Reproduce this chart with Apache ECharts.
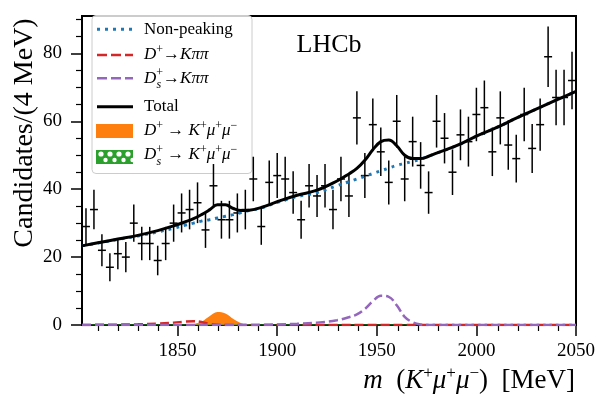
<!DOCTYPE html>
<html>
<head>
<meta charset="utf-8">
<title></title>
<script src="https://cdn.jsdelivr.net/npm/echarts@6/dist/echarts.min.js"></script>
</head>
<body style="margin:0">
<div id="container" style="width:598px;height:396px;"></div>
<script>
// candidates per 4 MeV bin, first bin centre 1804
var binCounts = [29, 34, 22, 17, 21, 20, 30, 24, 24, 19, 24, 30, 33, 34, 36, 28,
                 41, 31, 31, 33, 34, 43, 29, 42, 44, 43, 39, 31, 41, 38, 41, 34,
                 43, 38, 61, 44, 59, 51, 42, 60, 43, 54, 47, 39, 60, 55, 45, 56,
                 54, 62, 64, 51, 61, 53, 49, 62, 52, 59, 79, 67, 67, 72];

// fit components
var curveMass  = [1802, 1810, 1820, 1830, 1840, 1848, 1854, 1858, 1862, 1866, 1870, 1874, 1878,
                  1882, 1886, 1892, 1900, 1910, 1920, 1930, 1936, 1940, 1944, 1948, 1952, 1956,
                  1960, 1964, 1968, 1972, 1976, 1980, 1990, 2000, 2010, 2020, 2030, 2040, 2050];
var nonPeaking = [23.3, 24.15, 25.2, 26.2, 27.4, 28.5, 29.4, 30.0, 30.6, 31.0, 31.5, 32.0, 32.5,
                  33.1, 33.7, 34.5, 36.1, 37.8, 39.0, 41.0, 42.2, 43.0, 43.8, 44.6, 45.4, 46.2,
                  47.0, 47.6, 48.2, 48.9, 49.7, 50.6, 52.8, 55.6, 58.1, 60.9, 63.6, 66.2, 68.8];
var dpKpipi    = [0, 0.05, 0.1, 0.2, 0.4, 0.7, 1.0, 1.1, 0.9, 0.3, 0.05, 0, 0,
                  0, 0, 0, 0, 0, 0, 0, 0, 0, 0, 0, 0, 0,
                  0, 0, 0, 0, 0, 0, 0, 0, 0, 0, 0, 0, 0];
var dsKpipi    = [0, 0, 0, 0, 0, 0, 0, 0, 0, 0, 0, 0, 0,
                  0, 0, 0.05, 0.15, 0.35, 0.7, 1.4, 2.3, 3.1, 4.7, 7.0, 8.6, 8.3,
                  5.8, 2.4, 0.8, 0.15, 0.02, 0, 0, 0, 0, 0, 0, 0, 0];
var dpKmumu    = [0, 0, 0, 0, 0, 0, 0, 0.24, 1.0, 2.6, 3.85, 3.4, 1.75,
                  0.53, 0.1, 0, 0, 0, 0, 0, 0, 0, 0, 0, 0, 0,
                  0, 0, 0, 0, 0, 0, 0, 0, 0, 0, 0, 0, 0];
var dsKmumu    = [0, 0, 0, 0, 0, 0, 0, 0, 0, 0, 0, 0, 0,
                  0, 0, 0, 0, 0, 0, 0, 0, 0, 0, 0, 0, 0,
                  0, 0, 0, 0, 0, 0, 0, 0, 0, 0, 0, 0, 0];
var totalFit   = [23.3, 24.2, 25.3, 26.4, 27.8, 29.2, 30.4, 31.3, 32.5, 33.9, 35.4, 35.4, 34.3,
                  33.7, 33.8, 34.6, 36.3, 38.2, 39.7, 42.4, 44.5, 46.1, 48.5, 51.6, 54.0, 54.5,
                  52.8, 50.0, 49.0, 49.0, 49.7, 50.6, 52.8, 55.6, 58.1, 60.9, 63.6, 66.2, 68.8];

var xMajorTicks = [1850, 1900, 1950, 2000, 2050];
var xMinorTicks = [1810, 1820, 1830, 1840, 1860, 1870, 1880, 1890, 1910, 1920, 1930, 1940,
                   1960, 1970, 1980, 1990, 2010, 2020, 2030, 2040];
var yMajorTicks = [0, 20, 40, 60, 80];
var yMinorTicks = [5, 10, 15, 25, 30, 35, 45, 50, 55, 65, 70, 75, 85, 90];

var serif = 'Liberation Serif';

function pairs(ys) {
    return curveMass.map(function (m, i) { return [m, ys[i]]; });
}

var points = [];
for (var i = 0; i < binCounts.length; i++) {
    points.push([1804 + 4 * i, binCounts[i], Math.sqrt(binCounts[i])]);
}

var dom = document.getElementById('container');
var myChart = echarts.init(dom, null, {renderer: 'canvas'});

var gridBox = {left: 82, right: 20, top: 16, bottom: 71};

var sup = {fontFamily: serif, fontSize: 12, lineHeight: 12, verticalAlign: 'top'};
var legRich = {
    i: {fontFamily: serif, fontStyle: 'italic', fontSize: 17, lineHeight: 22},
    n: {fontFamily: serif, fontSize: 17, lineHeight: 22},
    p: sup
};

function legText(x, y, text) {
    return {type: 'text', x: x, y: y, z: 20,
        style: {text: text, rich: legRich, fontFamily: serif, fontSize: 17, fill: '#000', verticalAlign: 'middle'}};
}
function legSub(x, y) {
    return {type: 'text', x: x, y: y, z: 20,
        style: {text: 's', fontFamily: serif, fontStyle: 'italic', fontSize: 12, fill: '#000', verticalAlign: 'middle'}};
}
function legLine(y, color, dash, w) {
    return {type: 'line', z: 20, shape: {x1: 97, y1: y, x2: 133, y2: y},
        style: {stroke: color, lineWidth: w, lineDash: dash, lineCap: 'butt'}};
}

var hatch = [];
[101, 110, 119, 128].forEach(function (cx) {
    hatch.push({type: 'circle', z: 21, shape: {cx: cx, cy: 154, r: 2.6}, style: {fill: '#fff'}});
    hatch.push({type: 'circle', z: 21, shape: {cx: cx + 4.5, cy: 160, r: 2.2}, style: {fill: '#fff'}});
});

function plain(v) { return String(v); }

var option = {
    animation: false,
    grid: [
        Object.assign({show: true, borderColor: '#000', borderWidth: 2, backgroundColor: 'transparent'}, gridBox),
        Object.assign({}, gridBox)
    ],
    xAxis: [
        {gridIndex: 0, type: 'value', min: 1802, max: 2050,
            axisLine: {lineStyle: {color: '#000', width: 2}},
            axisTick: {customValues: xMajorTicks, length: 11, lineStyle: {color: '#000', width: 1.5}},
            axisLabel: {customValues: xMajorTicks, formatter: plain, color: '#000', fontFamily: serif, fontSize: 19, margin: 17},
            splitLine: {show: false}},
        {gridIndex: 1, type: 'value', min: 1802, max: 2050,
            axisLine: {show: false},
            axisTick: {customValues: xMinorTicks, length: 6, lineStyle: {color: '#000', width: 1.2}},
            axisLabel: {show: false},
            splitLine: {show: false}}
    ],
    yAxis: [
        {gridIndex: 0, type: 'value', min: 0, max: 91,
            axisLine: {lineStyle: {color: '#000', width: 2}},
            axisTick: {customValues: yMajorTicks, length: 11, lineStyle: {color: '#000', width: 1.5}},
            axisLabel: {customValues: yMajorTicks, formatter: plain, color: '#000', fontFamily: serif, fontSize: 19, margin: 20},
            splitLine: {show: false}},
        {gridIndex: 1, type: 'value', min: 0, max: 91,
            axisLine: {show: false},
            axisTick: {customValues: yMinorTicks, length: 6, lineStyle: {color: '#000', width: 1.2}},
            axisLabel: {show: false},
            splitLine: {show: false}}
    ],
    series: [
        {name: 'D+ -> K+mu+mu-', type: 'line', data: pairs(dpKmumu), smooth: 0.4,
            showSymbol: false, lineStyle: {width: 0}, areaStyle: {color: '#ff7f0e', opacity: 1}, z: 1},
        {name: 'Ds+ -> K+mu+mu-', type: 'line', data: pairs(dsKmumu),
            showSymbol: false, lineStyle: {width: 1, color: '#2ca02c'}, z: 1},
        {name: 'Non-peaking', type: 'line', data: pairs(nonPeaking), smooth: 0.4,
            showSymbol: false, lineStyle: {color: '#1f77b4', width: 3, type: [3, 5], cap: 'butt'}},
        {name: 'D+ -> Kpipi', type: 'line', data: pairs(dpKpipi), smooth: 0.4,
            showSymbol: false, lineStyle: {color: '#d62728', width: 2.5, type: [9, 4]}},
        {name: 'Ds+ -> Kpipi', type: 'line', data: pairs(dsKpipi), smooth: 0.4,
            showSymbol: false, lineStyle: {color: '#9467bd', width: 2.5, type: [9, 4]}},
        {name: 'Data', type: 'custom', data: points, z: 3,
            renderItem: function (params, api) {
                var x = api.value(0), n = api.value(1), e = api.value(2);
                var top = api.coord([x, n + e]), bot = api.coord([x, n - e]);
                var l = api.coord([x - 2, n]), r = api.coord([x + 2, n]);
                return {type: 'group', children: [
                    {type: 'line', shape: {x1: top[0], y1: top[1], x2: bot[0], y2: bot[1]},
                        style: {stroke: '#000', lineWidth: 1.5}},
                    {type: 'line', shape: {x1: l[0], y1: l[1], x2: r[0], y2: r[1]},
                        style: {stroke: '#000', lineWidth: 1.5}}
                ]};
            }},
        {name: 'Total', type: 'line', data: pairs(totalFit), smooth: 0.4, z: 4,
            showSymbol: false, lineStyle: {color: '#000', width: 3}}
    ],
    graphic: [
        {type: 'rect', z: 0, shape: {x: 92, y: 15.5, width: 160, height: 158, r: 4},
            style: {fill: 'rgba(255,255,255,0.8)', stroke: '#cccccc', lineWidth: 1}},
        legLine(29.3, '#1f77b4', [3, 5], 3),
        legText(144, 29.3, '{n|Non-peaking}'),
        legLine(55, '#d62728', [10, 4], 2.5),
        legText(144, 55, '{i|D}{p|+}{n|→}{i|Kππ}'),
        legLine(78.3, '#9467bd', [10, 4], 2.5),
        legText(144, 78.3, '{i|D}{p|+}{n|→}{i|Kππ}'),
        legSub(156.5, 85),
        legLine(106.7, '#000', null, 3),
        legText(144, 106.7, '{n|Total}'),
        {type: 'rect', z: 20, shape: {x: 96, y: 124, width: 37, height: 14}, style: {fill: '#ff7f0e'}},
        legText(144, 131, '{i|D}{p|+}{n| → }{i|K}{p|+}{i|μ}{p|+}{i|μ}{p|−}'),
        {type: 'rect', z: 20, shape: {x: 96, y: 150, width: 37, height: 14}, style: {fill: '#2ca02c'}}
    ].concat(hatch).concat([
        legText(144, 155, '{i|D}{p|+}{n| → }{i|K}{p|+}{i|μ}{p|+}{i|μ}{p|−}'),
        legSub(156.5, 162),
        {type: 'text', x: 329, y: 45, z: 20,
            style: {text: 'LHCb', fontFamily: serif, fontSize: 26, fill: '#000', align: 'center', verticalAlign: 'middle'}},
        {type: 'text', x: 25, y: 133, rotation: Math.PI / 2, z: 20,
            style: {text: 'Candidates/(4 MeV)', fontFamily: serif, fontSize: 28, fill: '#000',
                align: 'center', verticalAlign: 'middle'}},
        {type: 'text', x: 575, y: 381, z: 20,
            style: {text: '{i|m}{n|  (}{i|K}{s|+}{i|μ}{s|+}{i|μ}{s|−}{n|)  [MeV]}',
                rich: {
                    i: {fontFamily: serif, fontStyle: 'italic', fontSize: 27, lineHeight: 32},
                    n: {fontFamily: serif, fontSize: 27, lineHeight: 32},
                    s: {fontFamily: serif, fontSize: 17, lineHeight: 17, verticalAlign: 'top'}
                },
                fontFamily: serif, fontSize: 27, fill: '#000', align: 'right', verticalAlign: 'middle'}}
    ])
};

if (option && typeof option === 'object') {
    myChart.setOption(option);
}
window.addEventListener('resize', myChart.resize);
</script>
</body>
</html>
